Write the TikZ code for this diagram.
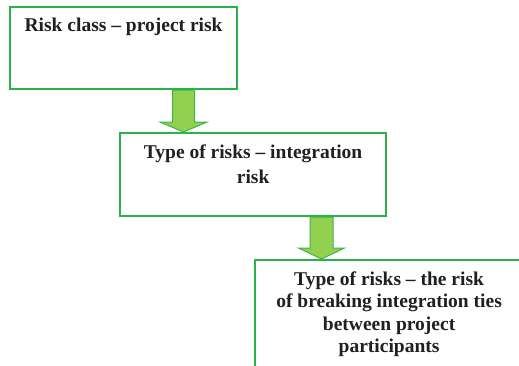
\documentclass[tikz,border=0pt]{standalone}
\usepackage{fontspec}
\setmainfont{Liberation Serif}
\definecolor{boxgreen}{RGB}{44,178,74}
\definecolor{arrowfill}{RGB}{146,208,80}
\definecolor{arrowedge}{RGB}{60,180,75}
\definecolor{txt}{RGB}{35,31,32}
\begin{document}
\begin{tikzpicture}[x=1pt,y=1pt,
  box/.style={draw=boxgreen,line width=2.2pt,fill=white,minimum width=#1,inner sep=0pt,anchor=north west},
  label/.style={text=txt,font=\fontsize{19.5}{22.5}\selectfont\bfseries,align=center,anchor=north,inner sep=0pt},
  bigarrow/.style={fill=arrowfill,draw=arrowedge,line width=1pt,line join=miter}]
\useasboundingbox (0,0) rectangle (519,365);
\clip (0,0) rectangle (519,365);
% boxes (y = 365 - pixel row)
\node[box=227pt,minimum height=82pt] (b1) at (9,359) {};
\node[box=266pt,minimum height=83pt] (b2) at (119,233) {};
\node[box=268pt,minimum height=130pt] (b3) at (254,106) {};
% texts
\node[label] (t1) at ([yshift=-12pt]b1.north) {Risk class -- project risk};
\node[label] (t2) at ([yshift=-12.5pt]b2.north) {Type of risks -- integration\\[2.5pt]risk};
\node[label] (t3) at ([yshift=-12.5pt]b3.north) {Type of risks -- the risk\\of breaking integration ties\\between project\\participants};
% arrows
\coordinate (a1tip) at (183.5,0 |- b2.north);
\coordinate (a1top) at (183.5,0 |- b1.south);
\draw[bigarrow] ([xshift=-11pt]a1top) -- ([xshift=-11pt,yshift=10pt]a1tip) -- ([xshift=-23.5pt,yshift=10pt]a1tip) -- (a1tip)
  -- ([xshift=23.5pt,yshift=10pt]a1tip) -- ([xshift=11pt,yshift=10pt]a1tip) -- ([xshift=11pt]a1top) -- cycle;
\coordinate (a2tip) at (321.5,0 |- b3.north);
\coordinate (a2top) at (321.5,0 |- b2.south);
\draw[bigarrow] ([xshift=-11.5pt]a2top) -- ([xshift=-11.5pt,yshift=11pt]a2tip) -- ([xshift=-23pt,yshift=11pt]a2tip) -- (a2tip)
  -- ([xshift=23pt,yshift=11pt]a2tip) -- ([xshift=11.5pt,yshift=11pt]a2tip) -- ([xshift=11.5pt]a2top) -- cycle;
\end{tikzpicture}
\end{document}
